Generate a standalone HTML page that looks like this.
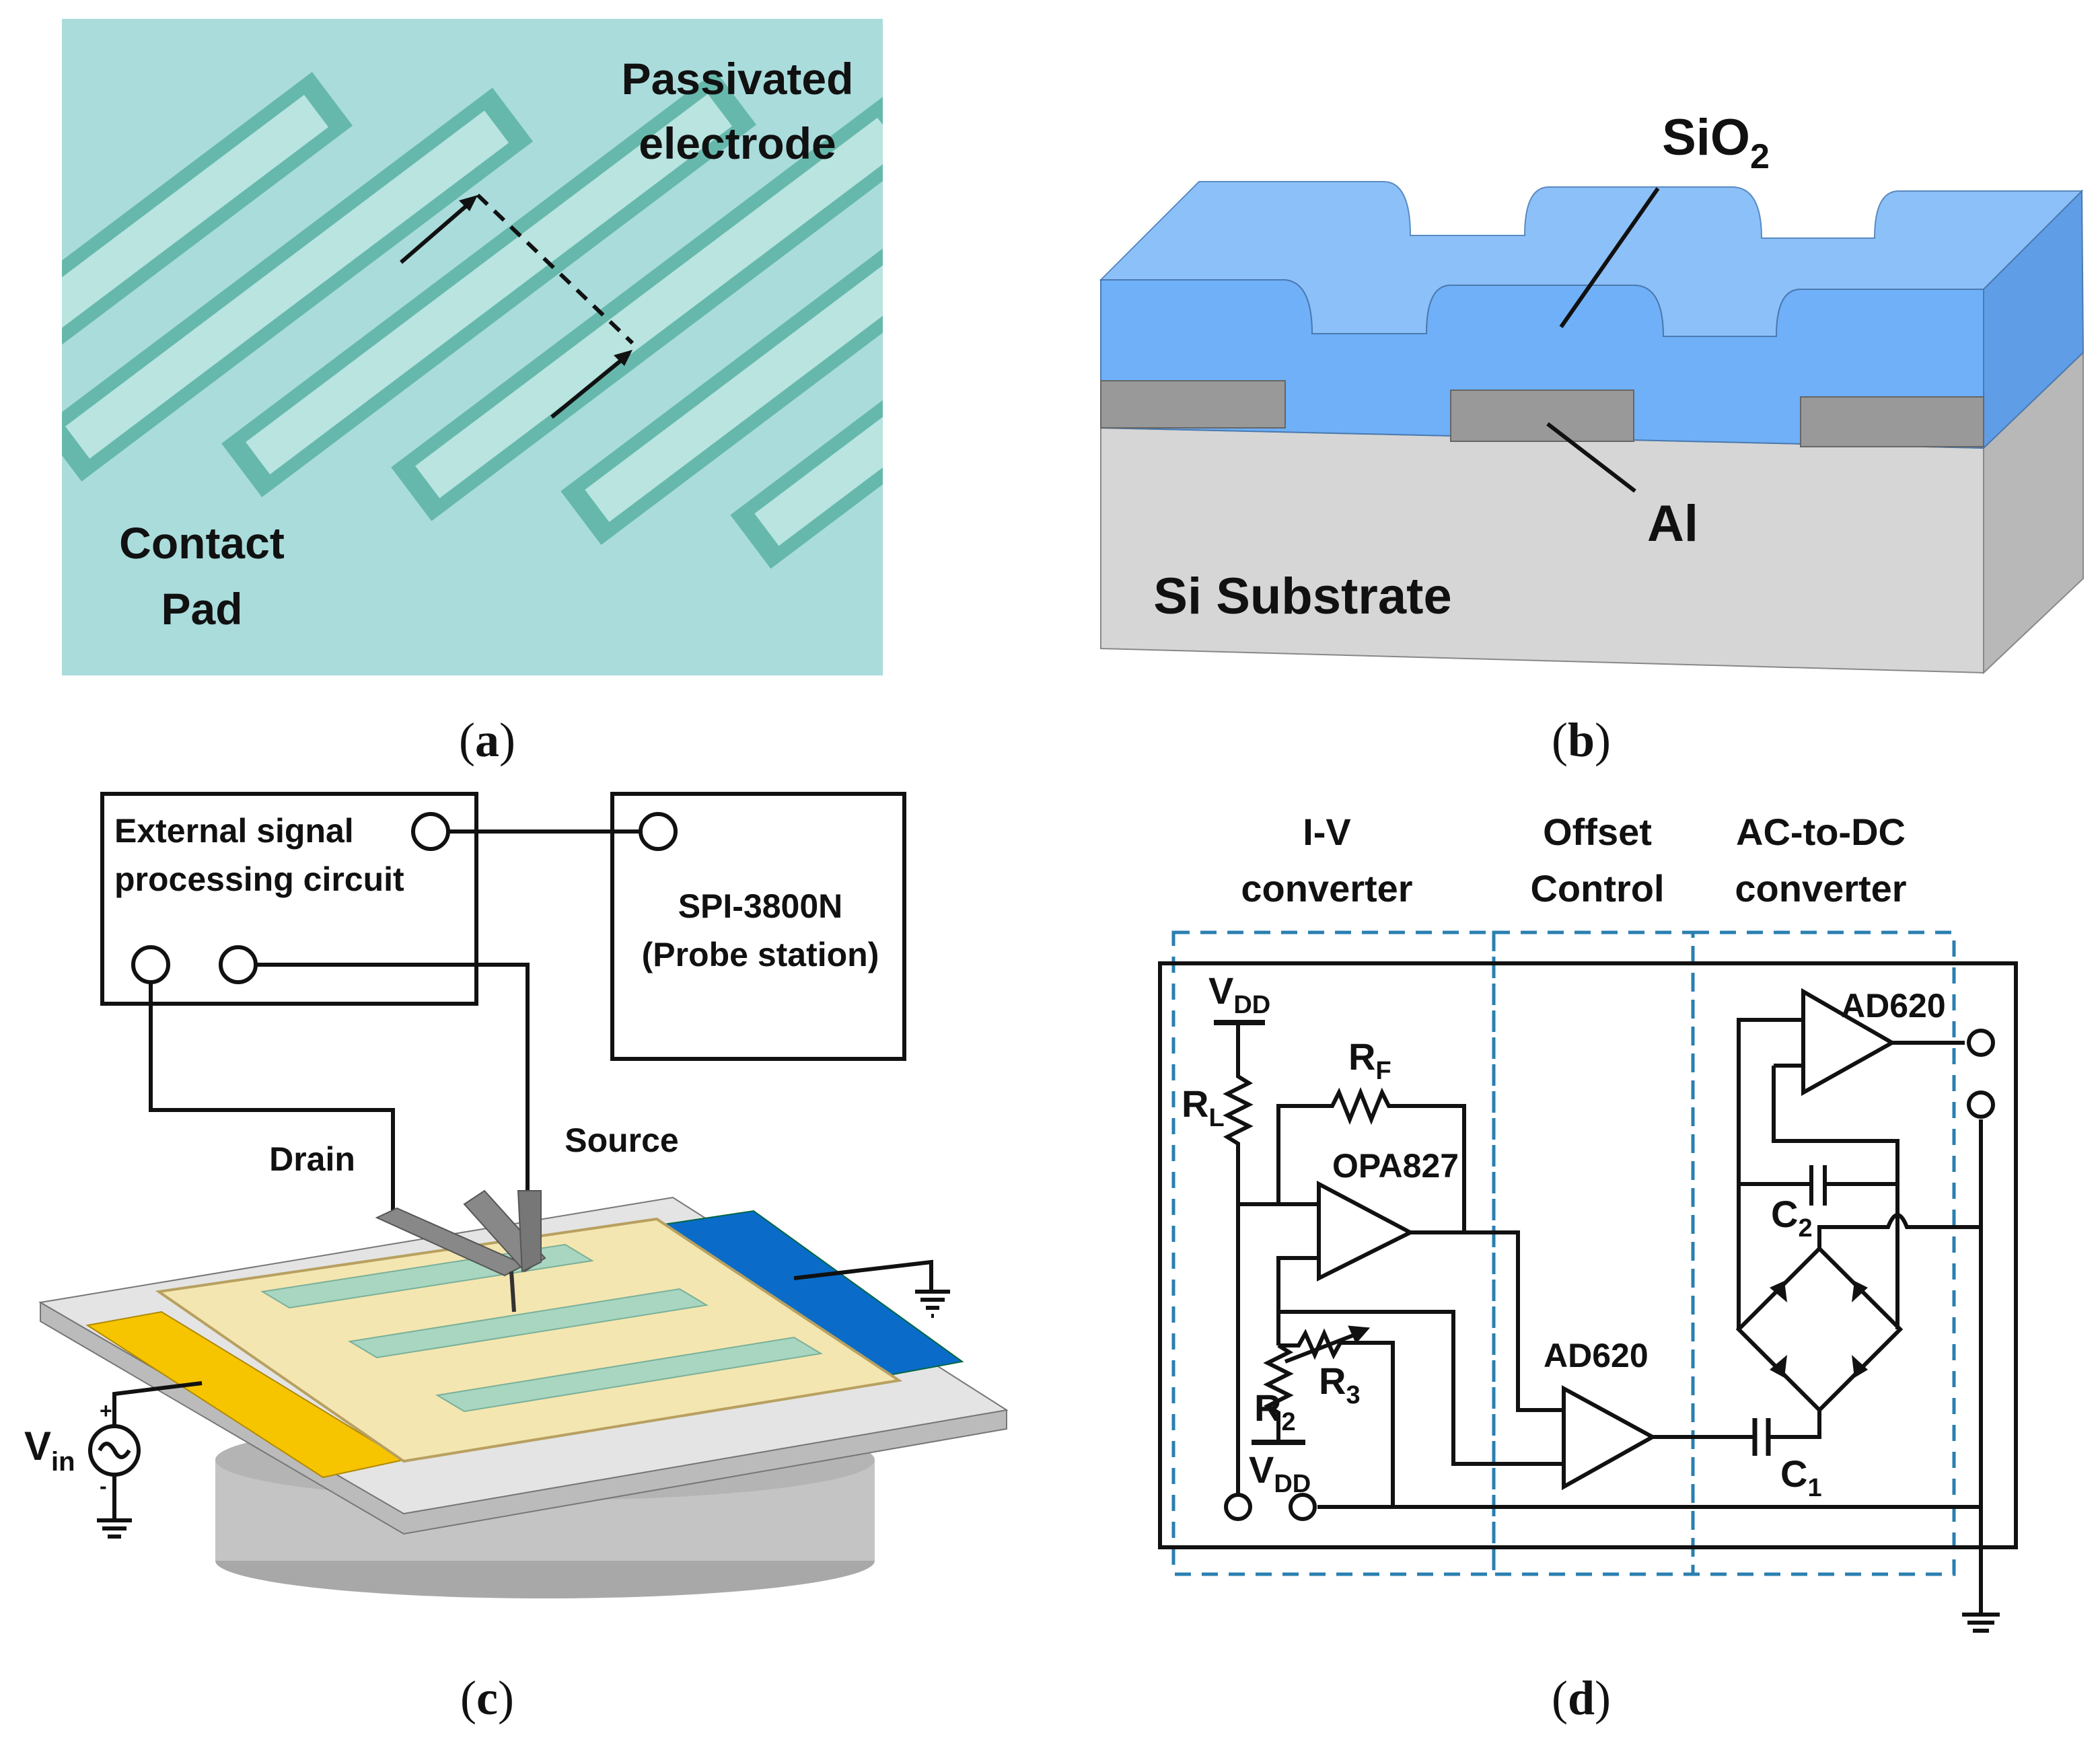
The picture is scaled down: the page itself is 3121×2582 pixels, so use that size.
<!DOCTYPE html>
<html><head><meta charset="utf-8"><style>
html,body{margin:0;padding:0;background:#fff}
svg{display:block}
.t{font-family:"Liberation Sans",sans-serif;font-weight:bold;fill:#111}
.s{font-family:"Liberation Serif",serif;fill:#111}
.w{stroke:#111;stroke-width:3;fill:none}
</style></head><body>
<svg width="3121" height="2582" viewBox="0 0 1560.5 1291" xmlns="http://www.w3.org/2000/svg">
<!-- (a) -->
<defs><clipPath id="ca"><rect x="46" y="14" width="610" height="488"/></clipPath></defs>
<rect x="46" y="14" width="610" height="488" fill="#aadcdc"/>
<g clip-path="url(#ca)">
 <g transform="rotate(-37 350 260)" fill="#66b8ac" stroke="none">
   <rect x="-40" y="24" width="420" height="50"/><rect x="-25" y="34" width="390" height="30" fill="#b9e4e0"/>
   <rect x="60" y="114" width="420" height="50"/><rect x="75" y="124" width="390" height="30" fill="#b9e4e0"/>
   <rect x="160" y="204" width="460" height="50"/><rect x="175" y="214" width="430" height="30" fill="#b9e4e0"/>
   <rect x="250" y="294" width="460" height="50"/><rect x="265" y="304" width="430" height="30" fill="#b9e4e0"/>
   <rect x="340" y="384" width="460" height="50"/><rect x="355" y="394" width="430" height="30" fill="#b9e4e0"/>
   <rect x="430" y="474" width="460" height="50"/><rect x="445" y="484" width="430" height="30" fill="#b9e4e0"/>
 </g>
</g>
<path d="M298 195 L350 150" class="w"/><path d="M355 145 l-14 4 l8 8z" fill="#111"/>
<path d="M355 145 L470 255" class="w" stroke-dasharray="10 7"/>
<path d="M410 310 L465 265" class="w"/><path d="M470 260 l-14 4 l8 8z" fill="#111"/>
<text class="t" x="548" y="70" font-size="33" text-anchor="middle" fill="#222">Passivated</text>
<text class="t" x="548" y="118" font-size="33" text-anchor="middle" fill="#222">electrode</text>
<text class="t" x="150" y="415" font-size="33" text-anchor="middle" fill="#222">Contact</text>
<text class="t" x="150" y="464" font-size="33" text-anchor="middle" fill="#222">Pad</text>
<!-- (b) -->
<polygon points="1474,333 1548,262 1548,430 1474,500" fill="#b8b8b8" stroke="#888"/>
<polygon points="818,318 1474,333 1474,500 818,482" fill="#d6d6d6" stroke="#888"/>
<path d="M818 208 L955 208 Q975 210 975 248 L1060 248 Q1060 212 1078 212 L1214 212 Q1236 212 1236 250 L1320 250 Q1320 215 1338 215 L1474 215 L1547 142 L1411 142 Q1393 142 1393 177 L1309 177 Q1309 139 1287 139 L1151 139 Q1133 139 1133 175 L1048 175 Q1048 135 1028 135 L891 135 Z" fill="#8cc0f8" stroke="#5a8ac0"/>
<polygon points="1474,215 1547,142 1548,262 1474,333" fill="#5f9de6" stroke="#4a7ab0"/>
<path d="M818 208 L955 208 Q975 210 975 248 L1060 248 Q1060 212 1078 212 L1214 212 Q1236 212 1236 250 L1320 250 Q1320 215 1338 215 L1474 215 L1474 333 L818 318 Z" fill="#6fb0f8" stroke="#4a7ab0"/>
<rect x="818" y="283" width="137" height="35" fill="#999" stroke="#666"/>
<rect x="1078" y="290" width="136" height="38" fill="#999" stroke="#666"/>
<rect x="1338" y="295" width="136" height="37" fill="#999" stroke="#666"/>
<path d="M1160 243 L1232 140" class="w"/><path d="M1150 315 L1215 365" class="w"/>
<text class="t" x="1275" y="115" font-size="38" text-anchor="middle">SiO<tspan font-size="26" dy="10">2</tspan></text>
<text class="t" x="1243" y="402" font-size="38" text-anchor="middle">Al</text>
<text class="t" x="968" y="456" font-size="38" text-anchor="middle">Si Substrate</text>
<!-- labels -->
<text class="s" x="362" y="562" font-size="36" text-anchor="middle">(<tspan font-weight="bold">a</tspan>)</text>
<text class="s" x="1175" y="562" font-size="36" text-anchor="middle">(<tspan font-weight="bold">b</tspan>)</text>
<text class="s" x="362" y="1274" font-size="36" text-anchor="middle">(<tspan font-weight="bold">c</tspan>)</text>
<text class="s" x="1175" y="1274" font-size="36" text-anchor="middle">(<tspan font-weight="bold">d</tspan>)</text>
<!-- (c) -->
<rect x="76" y="590" width="278" height="156" class="w"/>
<rect x="455" y="590" width="217" height="197" class="w"/>
<text class="t" x="85" y="626" font-size="25">External signal</text>
<text class="t" x="85" y="662" font-size="25">processing circuit</text>
<text class="t" x="565" y="682" font-size="25" text-anchor="middle">SPI-3800N</text>
<text class="t" x="565" y="718" font-size="25" text-anchor="middle">(Probe station)</text>
<path d="M333 618 H476" class="w"/>
<circle cx="320" cy="618" r="13" class="w" fill="#fff"/><circle cx="489" cy="618" r="13" class="w" fill="#fff"/>
<circle cx="112" cy="717" r="13" class="w" fill="#fff"/><circle cx="177" cy="717" r="13" class="w" fill="#fff"/>
<path d="M112 730 V825 H292 V900" class="w" stroke-width="2"/>
<path d="M190 717 H392 V890" class="w" stroke-width="2"/>
<text class="t" x="232" y="870" font-size="25" text-anchor="middle">Drain</text>
<text class="t" x="462" y="856" font-size="25" text-anchor="middle">Source</text>
<ellipse cx="405" cy="1160" rx="245" ry="28" fill="#a8a8a8"/>
<rect x="160" y="1085" width="490" height="75" fill="#c4c4c4"/>
<ellipse cx="405" cy="1085" rx="245" ry="30" fill="#b4b4b4"/>
<polygon points="30,968 30,982 300,1140 748,1062 748,1048 300,1125" fill="#bbb" stroke="#777"/>
<polygon points="30,968 500,890 748,1048 300,1125" fill="#e4e4e4" stroke="#777"/>
<polygon points="65,985 120,975 300,1085 240,1098" fill="#f7c400" stroke="#b08a00"/>
<polygon points="480,912 560,900 715,1012 650,1024" fill="#0a6cc8" stroke="#064"/>
<polygon points="118,960 488,906 668,1026 300,1086" fill="#f4e6b0" stroke="#b8a060" stroke-width="2"/>
<g fill="#a8d6c0" stroke="#7ab09a">
<polygon points="195,960 420,925 440,937 215,972"/>
<polygon points="260,997 505,958 525,970 280,1009"/>
<polygon points="325,1037 590,994 610,1006 345,1049"/>
</g>
<polygon points="280,905 295,898 390,940 375,948" fill="#888" stroke="#555"/>
<polygon points="345,895 360,885 405,935 390,945" fill="#888" stroke="#555"/>
<polygon points="385,885 402,885 402,938 388,945" fill="#777" stroke="#555"/>
<path d="M380 945 L382 975" stroke="#333" stroke-width="3"/>
<path d="M590 950 L692 938 V960" class="w" stroke-width="2"/>
<path d="M680 960 h26 M684 966 h18 M688 972 h10 M692 978 h2" class="w" stroke-width="2"/>
<path d="M150 1028 L85 1036 V1060 M85 1096 V1130" class="w" stroke-width="2"/>
<circle cx="85" cy="1078" r="18" class="w" stroke-width="2.5" fill="#fff"/>
<path d="M74 1078 q5 -10 11 0 q5 10 11 0" class="w" stroke-width="2"/>
<path d="M72 1130 h26 M76 1136 h18 M80 1142 h10" class="w" stroke-width="2"/>
<text class="t" x="74" y="1054" font-size="16">+</text><text class="t" x="74" y="1110" font-size="16">-</text>
<text class="t" x="18" y="1085" font-size="30">V<tspan font-size="20" dy="8">in</tspan></text>
<!-- (d) -->
<g fill="none" stroke="#2a7fb0" stroke-width="2.5" stroke-dasharray="12 8">
<rect x="872" y="693" width="238" height="477"/><rect x="1110" y="693" width="148" height="477"/><rect x="1258" y="693" width="194" height="477"/>
</g>
<g class="t" font-size="28" text-anchor="middle">
<text x="986" y="628">I-V</text><text x="986" y="670">converter</text>
<text x="1187" y="628">Offset</text><text x="1187" y="670">Control</text>
<text x="1353" y="628">AC-to-DC</text><text x="1353" y="670">converter</text>
</g>
<rect x="862" y="716" width="636" height="434" class="w"/>
<g class="w">
<path d="M902 760 H940" stroke-width="4"/>
<path d="M920 760 V800 l8 5 l-16 8 l16 8 l-16 8 l16 8 l-16 8 l8 5 V1110"/>
<path d="M920 895 H980 M950 895 V822 H990 l5 -10 l8 20 l8 -20 l8 20 l8 -20 l5 10 H1088 V916"/>
<polygon points="980,880 980,950 1048,916"/>
<path d="M980 935 H950 V1000 M950 975 H1080 V1088 H1162"/>
<path d="M1048 916 H1128 V1048 H1162"/>
<polygon points="1162,1032 1162,1105 1228,1068"/>
<path d="M950 1000 H965 l5 -9 l7 16 l7 -16 l7 16 l5 -9 H1035 V1120"/>
<path d="M955 1012 L1012 990"/><path d="M1015 988 l-11 -1 l4 9 z" fill="#111"/>
<path d="M950 1000 l8 5 l-16 8 l16 8 l-16 8 l16 8 l-16 8 l8 5 V1072"/>
<path d="M930 1072 H970" stroke-width="4"/>
<path d="M979 1120 H1472"/>
<path d="M1228 1068 H1304 M1314 1068 H1352 V1048"/>
<path d="M1304 1054 V1082 M1314 1054 V1082" stroke-width="3.5"/>
<polygon points="1352,928 1412,988 1352,1048 1292,988"/>
<path d="M1292 988 V758 H1340 M1318 792 H1340 M1318 792 V848 H1410 V988"/>
<polygon points="1340,737 1340,812 1406,775"/>
<path d="M1406 775 H1460"/>
<path d="M1292 880 H1346 M1356 880 H1410 M1346 866 V896 M1356 866 V896" />
<path d="M1352 928 V912 H1403 q7 -18 14 0 H1472"/>
<path d="M1472 832 V1200 M1458 1200 h28 M1462 1206 h20 M1466 1212 h12"/>
<circle cx="920" cy="1120" r="9" fill="#fff"/><circle cx="968" cy="1120" r="9" fill="#fff"/>
<circle cx="1472" cy="775" r="9" fill="#fff"/><circle cx="1472" cy="821" r="9" fill="#fff"/>
</g>
<g fill="#111">
<polygon points="1315,957 1328,968 1326,952"/><polygon points="1388,957 1376,968 1378,952"/>
<polygon points="1315,1018 1328,1007 1326,1024"/><polygon points="1388,1018 1376,1007 1378,1024"/>
</g>
<g class="t" font-size="28">
<text x="898" y="746">V<tspan font-size="19" dy="7">DD</tspan></text>
<text x="878" y="830">R<tspan font-size="19" dy="7">L</tspan></text>
<text x="1002" y="795">R<tspan font-size="19" dy="7">F</tspan></text>
<text x="990" y="875" font-size="25">OPA827</text>
<text x="980" y="1036">R<tspan font-size="19" dy="7">3</tspan></text>
<text x="932" y="1056">R<tspan font-size="19" dy="7">2</tspan></text>
<text x="928" y="1102">V<tspan font-size="19" dy="7">DD</tspan></text>
<text x="1147" y="1016" font-size="25">AD620</text>
<text x="1368" y="756" font-size="25">AD620</text>
<text x="1316" y="912">C<tspan font-size="19" dy="7">2</tspan></text>
<text x="1323" y="1105">C<tspan font-size="19" dy="7">1</tspan></text>
</g>
</svg>
</body></html>
